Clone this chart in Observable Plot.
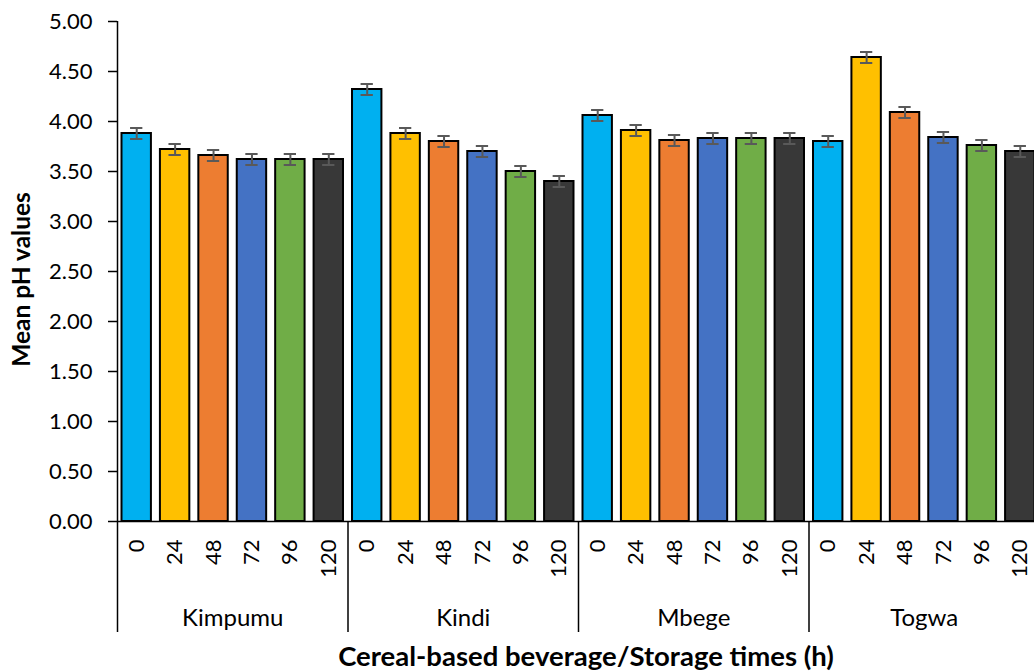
<!DOCTYPE html>
<html>
<head>
<meta charset="utf-8">
<script src="https://cdn.jsdelivr.net/npm/d3@7"></script>
<script src="https://cdn.jsdelivr.net/npm/@observablehq/plot@0.6"></script>
<style>
  html, body { margin: 0; padding: 0; overflow: hidden; background: #fff; width: 1034px; height: 672px; }
  #chart { width: 1034px; overflow: hidden; }
  #chart svg { display: block; max-width: none !important; }
</style>
</head>
<body>
<div id="chart"></div>
<script>
// ---- Data ----
const beverages = ["Kimpumu", "Kindi", "Mbege", "Togwa"];
const times = ["0", "24", "48", "72", "96", "120"];
const timeColors = ["#00B0F0", "#FFC000", "#ED7D31", "#4472C4", "#70AD47", "#383838"];

const kimpumuPH = [3.88, 3.72, 3.66, 3.62, 3.62, 3.62];
const kindiPH   = [4.32, 3.88, 3.80, 3.70, 3.50, 3.40];
const mbegePH   = [4.06, 3.91, 3.81, 3.83, 3.83, 3.83];
const togwaPH   = [3.80, 4.64, 4.09, 3.84, 3.76, 3.70];

const kimpumuErr = [0.055, 0.055, 0.055, 0.055, 0.055, 0.055];
const kindiErr   = [0.055, 0.055, 0.055, 0.055, 0.055, 0.055];
const mbegeErr   = [0.055, 0.055, 0.055, 0.055, 0.055, 0.055];
const togwaErr   = [0.055, 0.055, 0.055, 0.055, 0.055, 0.055];

const yTicks = [0, 0.5, 1, 1.5, 2, 2.5, 3, 3.5, 4, 4.5, 5];
const yLabel = "Mean pH values";
const xTitle = "Cereal-based beverage/Storage times (h)";

// ---- Build table ----
const phByBev = [kimpumuPH, kindiPH, mbegePH, togwaPH];
const errByBev = [kimpumuErr, kindiErr, mbegeErr, togwaErr];
const data = [];
beverages.forEach((b, gi) => {
  times.forEach((t, ti) => {
    const pos = gi * times.length + ti;
    data.push({beverage: b, time: t, pos, ph: phByBev[gi][ti], err: errByBev[gi][ti]});
  });
});
const nSlots = beverages.length * times.length;
const slotCenters = data.map(d => d.pos + 0.5);
const groupEdges = beverages.map((b, i) => i * times.length).concat([nSlots]);
const groupCenters = beverages.map((b, i) => i * times.length + times.length / 2);
const capHalf = 0.16;

const font = "Lato, 'Open Sans', sans-serif";

const chart = Plot.plot({
  width: 1040,
  height: 636,
  marginTop: 21,
  marginLeft: 117,
  marginRight: 1,
  marginBottom: 115,
  style: {fontFamily: font, fontSize: "22px", color: "#000", background: "#fff", maxWidth: "none"},
  x: {type: "linear", domain: [0, nSlots], axis: null},
  y: {domain: [0, 5], axis: null},
  color: {type: "ordinal", domain: times, range: timeColors},
  marks: [
    // bars
    Plot.rectY(data, {
      x1: "pos", x2: d => d.pos + 1, y1: 0, y2: "ph",
      fill: "time", stroke: "#000", strokeWidth: 2,
      insetLeft: 4.5, insetRight: 4.5
    }),
    // error bars
    Plot.ruleX(data, {x: d => d.pos + 0.5, y1: d => d.ph - d.err, y2: d => d.ph + d.err, stroke: "#595959", strokeWidth: 2}),
    Plot.ruleY(data, {y: d => d.ph + d.err, x1: d => d.pos + 0.5 - capHalf, x2: d => d.pos + 0.5 + capHalf, stroke: "#595959", strokeWidth: 2}),
    Plot.ruleY(data, {y: d => d.ph - d.err, x1: d => d.pos + 0.5 - capHalf, x2: d => d.pos + 0.5 + capHalf, stroke: "#595959", strokeWidth: 2}),
    // axis lines
    Plot.ruleY([0], {stroke: "#000", strokeWidth: 1.5}),
    Plot.ruleX([0], {stroke: "#000", strokeWidth: 1.5}),
    // y axis
    Plot.axisY({
      ticks: yTicks, tickFormat: d3.format(".2f"), tickSize: 9, tickPadding: 16,
      stroke: "#000", strokeWidth: 1.5, strokeOpacity: 1, fontSize: 22, label: null
    }),
    // y label
    Plot.text([yLabel], {
      frameAnchor: "left", textAnchor: "middle", rotate: -90, dx: -95, dy: 8,
      fontWeight: "bold", fontSize: 24.5, fill: "#000"
    }),
    // time tick labels
    Plot.axisX({
      ticks: slotCenters, tickFormat: d => times[Math.floor(d) % times.length],
      tickSize: 0, tickPadding: 18, tickRotate: -90, fontSize: 22, label: null
    }),
    // group separators
    Plot.axisX({
      ticks: groupEdges, tickFormat: () => "", tickSize: 111,
      stroke: "#000", strokeWidth: 1.5, strokeOpacity: 1, label: null
    }),
    // group labels
    Plot.axisX({
      ticks: groupCenters, tickFormat: d => beverages[(d - times.length / 2) / times.length],
      tickSize: 0, tickPadding: 87, fontSize: 24, label: null
    })
  ]
});

document.getElementById("chart").appendChild(chart);

const title = document.createElement("div");
title.textContent = xTitle;
title.style.cssText = `font-family:${font};font-weight:bold;font-size:27.5px;color:#000;width:1034px;padding-left:138px;padding-top:3px;box-sizing:border-box;text-align:center;line-height:33px;height:36px;white-space:nowrap;`;
document.body.appendChild(title);
</script>
</body>
</html>
